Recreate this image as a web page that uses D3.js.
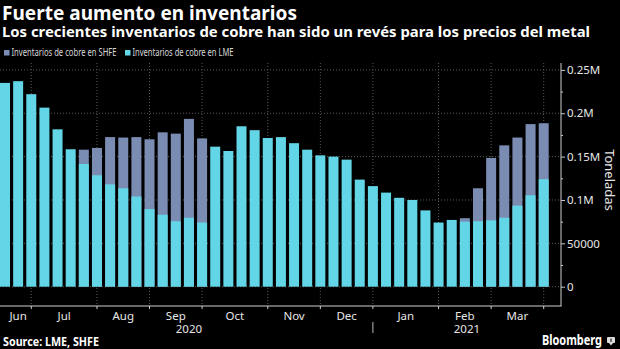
<!DOCTYPE html>
<html lang="es">
  <head>
    <meta charset="utf-8" />
    <title>Fuerte aumento en inventarios</title>
    <script type="text/javascript" src="https://d3js.org/d3.v7.min.js"></script>
    <style>
      body { margin: 0; background: #000; }
      svg { display: block; font-family: "Noto Sans", "DejaVu Sans", sans-serif; }
    </style>
  </head>
  <body>
    <div id="chart"></div>

    <script type="text/javascript">
      /********************************
       * data
       ********************************/

      // weekly observations (Fridays)
      const weeks = [
        "2020-06-19", "2020-06-26", "2020-07-03", "2020-07-10", "2020-07-17", "2020-07-24",
        "2020-07-31", "2020-08-07", "2020-08-14", "2020-08-21", "2020-08-28", "2020-09-04",
        "2020-09-11", "2020-09-18", "2020-09-25", "2020-10-02", "2020-10-09", "2020-10-16",
        "2020-10-23", "2020-10-30", "2020-11-06", "2020-11-13", "2020-11-20", "2020-11-27",
        "2020-12-04", "2020-12-11", "2020-12-18", "2020-12-25", "2021-01-01", "2021-01-08",
        "2021-01-15", "2021-01-22", "2021-01-29", "2021-02-05", "2021-02-12", "2021-02-19",
        "2021-02-26", "2021-03-05", "2021-03-12", "2021-03-19", "2021-03-26", "2021-04-02",
      ];

      // tonnes, LME (front bars)
      const lme = [
        235000, 237000, 222000, 206500, 181500, 158500, 141500, 128500, 118000, 113500,
        104000, 89500, 83000, 75500, 79500, 74000, 161500, 156500, 185000, 180500,
        171500, 172500, 165500, 158000, 151500, 150000, 146500, 123500, 116000, 108500,
        102500, 100000, 88000, 74000, 77000, 75000, 75500, 76500, 79500, 93500,
        105500, 124000,
      ];

      // tonnes, SHFE (drawn behind LME; null where hidden by the LME bar)
      const shfe = [
        null, null, null, null, null, null, 158000, 160000, 172500, 172000,
        172500, 170000, 178000, 176500, 193500, 171000, null, null, null, null,
        null, null, null, null, null, null, null, null, null, null,
        null, null, null, null, null, 79000, 113500, 148500, 163000, 172000,
        187500, 188500,
      ];

      const monthLabels = ["Jun", "Jul", "Aug", "Sep", "Oct", "Nov", "Dec", "Jan", "Feb", "Mar"];
      const yearLabels = ["2020", "2021"];
      const yTicks = [0, 50000, 100000, 150000, 200000, 250000];
      const yTickLabels = ["0", "50000", "0.1M", "0.15M", "0.2M", "0.25M"];
      const yMinorTicks = [25000, 75000, 125000, 175000, 225000];

      const seriesNames = ["Inventarios de cobre en SHFE", "Inventarios de cobre en LME"];
      const colors = { shfe: "#7b8cb3", lme: "#62d5e6" };

      /***************************
       * create svg
       **************************/

      const width = 620;
      const height = 349;
      const plot = { left: 0, right: 561, top: 63, bottom: 306 };

      const svg = d3
        .select("div#chart")
        .append("svg")
        .attr("width", width)
        .attr("height", height);

      svg.append("rect").attr("width", width).attr("height", height).attr("fill", "#000");

      /****************************
       * scales
       *************************/

      const xScale = d3
        .scaleBand()
        .domain(weeks)
        .range([0, 548.7])
        .paddingInner(0.239)
        .paddingOuter(0);

      const yScale = d3.scaleLinear().domain([0, 250000]).range([286.7, 69.9]);

      const center = (d) => xScale(d) + xScale.bandwidth() / 2;

      // month starts = first week whose month differs from the previous one
      const monthStarts = weeks.filter((d, i) => i > 0 && d.slice(5, 7) !== weeks[i - 1].slice(5, 7));
      const monthTickX = monthStarts.map(center);
      const yearStart = monthStarts.find((d) => d.slice(5, 7) === "01");

      /*********************************
       * grid
       *******************************/

      const grid = svg.append("g").attr("stroke", "#5a5a5a").attr("stroke-dasharray", "1,2");

      grid
        .selectAll("line.h")
        .data(yTicks)
        .enter()
        .append("line")
        .attr("x1", plot.left)
        .attr("x2", plot.right)
        .attr("y1", (d) => yScale(d))
        .attr("y2", (d) => yScale(d));

      grid
        .selectAll("line.v")
        .data(monthTickX)
        .enter()
        .append("line")
        .attr("x1", (d) => d)
        .attr("x2", (d) => d)
        .attr("y1", plot.top)
        .attr("y2", plot.bottom);

      /********************************
       * bars
       * *******************************/

      svg
        .append("g")
        .selectAll("rect")
        .data(weeks.map((d, i) => ({ week: d, value: shfe[i] })).filter((d) => d.value != null))
        .enter()
        .append("rect")
        .attr("x", (d) => xScale(d.week))
        .attr("width", xScale.bandwidth())
        .attr("y", (d) => yScale(d.value))
        .attr("height", (d) => yScale(0) - yScale(d.value))
        .attr("fill", colors.shfe);

      svg
        .append("g")
        .selectAll("rect")
        .data(weeks.map((d, i) => ({ week: d, value: lme[i] })))
        .enter()
        .append("rect")
        .attr("x", (d) => xScale(d.week))
        .attr("width", xScale.bandwidth())
        .attr("y", (d) => yScale(d.value))
        .attr("height", (d) => yScale(0) - yScale(d.value))
        .attr("fill", colors.lme);

      /*********************************
       * axes
       *******************************/

      // right y axis
      const yAxis = d3
        .axisRight(yScale)
        .tickValues(yTicks)
        .tickFormat((d, i) => yTickLabels[i])
        .tickSize(4)
        .tickPadding(2);

      const yAxisGroup = svg
        .append("g")
        .attr("transform", `translate(${plot.right},0)`)
        .call(yAxis);
      yAxisGroup.select(".domain").remove();
      yAxisGroup.selectAll("line").attr("stroke", "#ccc");
      yAxisGroup
        .selectAll("text")
        .attr("fill", "#e6e6e6")
        .attr("font-size", 11.5)
        .style("font-family", "'Noto Sans', sans-serif");

      const yMinor = svg
        .append("g")
        .attr("transform", `translate(${plot.right},0)`)
        .call(d3.axisRight(yScale).tickValues(yMinorTicks).tickFormat("").tickSize(2));
      yMinor.select(".domain").remove();
      yMinor.selectAll("line").attr("stroke", "#ccc");

      // frame lines
      svg
        .append("line")
        .attr("x1", plot.right)
        .attr("x2", plot.right)
        .attr("y1", plot.top)
        .attr("y2", plot.bottom)
        .attr("stroke", "#cfcfcf");

      svg
        .append("line")
        .attr("x1", plot.left)
        .attr("x2", plot.right + 0.5)
        .attr("y1", plot.bottom)
        .attr("y2", plot.bottom)
        .attr("stroke", "#cfcfcf");

      // month ticks
      svg
        .append("g")
        .selectAll("line")
        .data(monthTickX)
        .enter()
        .append("line")
        .attr("x1", (d) => d)
        .attr("x2", (d) => d)
        .attr("y1", plot.bottom)
        .attr("y2", plot.bottom + 3)
        .attr("stroke", "#cfcfcf");

      // month labels centred between boundaries
      const bounds = [center(weeks[0])].concat(monthTickX);
      svg
        .append("g")
        .selectAll("text")
        .data(monthLabels)
        .enter()
        .append("text")
        .attr("x", (d, i) => (bounds[i] + bounds[i + 1]) / 2)
        .attr("y", 320)
        .attr("text-anchor", "middle")
        .attr("fill", "#e6e6e6")
        .attr("font-size", 11.5)
        .text((d) => d);

      // years
      const janX = center(yearStart);
      const yearBounds = [[center(weeks[0]), janX], [janX, plot.right]];
      svg
        .append("g")
        .selectAll("text")
        .data(yearLabels)
        .enter()
        .append("text")
        .attr("x", (d, i) => (yearBounds[i][0] + yearBounds[i][1]) / 2)
        .attr("y", 333)
        .attr("text-anchor", "middle")
        .attr("fill", "#e6e6e6")
        .attr("font-size", 11.5)
        .text((d) => d);

      svg
        .append("line")
        .attr("x1", janX)
        .attr("x2", janX)
        .attr("y1", 322)
        .attr("y2", 333)
        .attr("stroke", "#bbb");

      // axis title
      svg
        .append("text")
        .attr("transform", "translate(605,180) rotate(90)")
        .attr("text-anchor", "middle")
        .attr("fill", "#e6e6e6")
        .attr("font-size", 13)
        .text("Toneladas");

      /*********************************
       * titles, legend, footer
       *******************************/

      svg
        .append("text")
        .attr("x", 2)
        .attr("y", 20)
        .attr("fill", "#fff")
        .attr("font-size", 19)
        .attr("font-weight", "bold")
        .attr("textLength", 295)
        .attr("lengthAdjust", "spacingAndGlyphs")
        .text("Fuerte aumento en inventarios");

      svg
        .append("text")
        .attr("x", 2)
        .attr("y", 37)
        .attr("fill", "#fff")
        .attr("font-size", 14.5)
        .attr("font-weight", "bold")
        .attr("textLength", 588)
        .attr("lengthAdjust", "spacingAndGlyphs")
        .text("Los crecientes inventarios de cobre han sido un revés para los precios del metal");

      const legend = svg
        .append("g")
        .selectAll("g")
        .data([
          { name: seriesNames[0], color: colors.shfe, x: 4, w: 105 },
          { name: seriesNames[1], color: colors.lme, x: 125, w: 101 },
        ])
        .enter()
        .append("g")
        .attr("transform", (d) => `translate(${d.x},0)`);

      legend
        .append("rect")
        .attr("y", 50)
        .attr("width", 5.5)
        .attr("height", 5.5)
        .attr("fill", (d) => d.color);

      legend
        .append("text")
        .attr("x", 7.5)
        .attr("y", 56)
        .attr("fill", "#d8d8d8")
        .attr("font-size", 11)
        .attr("textLength", (d) => d.w)
        .attr("lengthAdjust", "spacingAndGlyphs")
        .text((d) => d.name);

      svg
        .append("text")
        .attr("x", 3)
        .attr("y", 346)
        .attr("fill", "#fff")
        .attr("font-size", 12)
        .attr("font-weight", "bold")
        .attr("textLength", 96)
        .attr("lengthAdjust", "spacingAndGlyphs")
        .text("Source: LME, SHFE");

      svg
        .append("text")
        .attr("x", 542)
        .attr("y", 345)
        .attr("fill", "#fff")
        .attr("font-size", 14)
        .attr("font-weight", "bold")
        .attr("textLength", 60)
        .attr("lengthAdjust", "spacingAndGlyphs")
        .text("Bloomberg");

      // small logo mark
      const logo = svg.append("g").attr("transform", "translate(607,337)");
      logo.append("rect").attr("width", 8).attr("height", 6).attr("rx", 1).attr("fill", "#ddd");
      logo.append("path").attr("d", "M2,6 L4,8.5 L6,6 Z").attr("fill", "#ddd");
      logo.append("rect").attr("x", 3.5).attr("y", 1.5).attr("width", 1).attr("height", 3.5).attr("fill", "#000");
    </script>
  </body>
</html>
